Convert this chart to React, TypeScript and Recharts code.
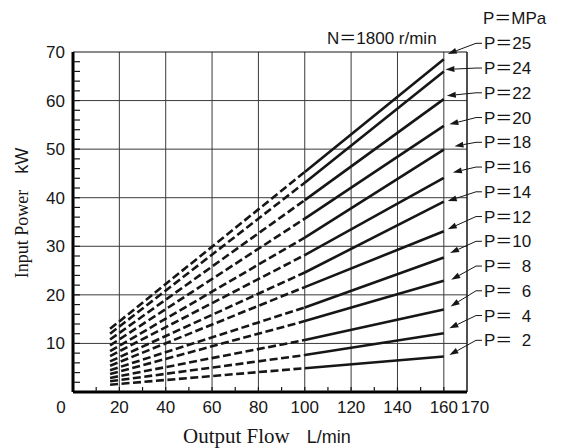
import React from "react";
import { LineChart, Line, XAxis, YAxis, CartesianGrid, ReferenceLine } from "recharts";

// flow points (L/min) where the curves were read
const flows = [16, 100, 160];
// discharge pressure of each curve (MPa)
const pressures = [25, 24, 22, 20, 18, 16, 14, 12, 10, 8, 6, 4, 2];
// input power (kW) read at each flow point, same order as pressures
const powerAt16 = [13.0, 12.0, 10.8, 9.6, 8.4, 7.4, 6.3, 5.4, 4.5, 3.7, 2.9, 2.2, 1.5];
const powerAt100 = [45.3, 43.1, 39.5, 35.7, 31.8, 28.2, 24.6, 21.6, 17.4, 14.6, 10.7, 7.6, 4.9];
const powerAt160 = [68.5, 66.0, 60.3, 54.8, 49.9, 44.1, 39.2, 33.1, 27.7, 22.9, 17.0, 12.1, 7.3];

const xTicks = [0, 10, 20, 30, 40, 50, 60, 70, 80, 90, 100, 110, 120, 130, 140, 150, 160, 170];
const yTicks = Array.from({ length: 36 }, (_, i) => i * 2);
const gridX = [20, 40, 60, 80, 100, 120, 140, 160];
const gridY = [10, 20, 30, 40, 50, 60];

// where the label arrows point (flow, power)
const arrowFlow = [161.7, 160.7, 161.3, 162.4, 164.6, 163.9, 161.7, 161.7, 162.7, 163.2, 162.9, 162.4, 162.4];
const arrowPower = [69.6, 66.4, 61.0, 55.1, 50.6, 45.2, 39.3, 33.5, 28.6, 23.1, 17.6, 13.1, 7.6];

const W = 563;
const H = 448;
const PLOT_L = 73;
const PLOT_R = 467;
const PLOT_T = 52;
const PLOT_B = 392;
const SANS = "'Liberation Sans', Arial, 'Noto Sans CJK JP', sans-serif";
const SERIF = "'Liberation Serif', 'Times New Roman', serif";
const INK = "#161616";

const px = (f: number) => PLOT_L + (f / 170) * (PLOT_R - PLOT_L);
const py = (p: number) => PLOT_B - (p / 70) * (PLOT_B - PLOT_T);

const rows = flows.map((flow, i) => {
  const src = [powerAt16, powerAt100, powerAt160][i];
  const row: any = { flow };
  pressures.forEach((p, j) => {
    if (i <= 1) row[`d${p}`] = src[j];
    if (i >= 1) row[`s${p}`] = src[j];
  });
  return row;
});

const XTick = (props: any) => {
  const { x, y, payload } = props;
  const v = payload.value;
  const label = v % 20 === 0 || v === 170;
  let lx = x;
  if (v === 0) lx = x - 12;
  if (v === 170) lx = x + 8;
  return (
    <g>
      {v > 0 && v < 170 && <line x1={x} x2={x} y1={y} y2={y - 5} stroke={INK} strokeWidth={1.2} />}
      {label && (
        <text x={lx} y={y + 21} textAnchor="middle" fontFamily={SANS} fontSize={17} fill={INK}>
          {v}
        </text>
      )}
    </g>
  );
};

const YTick = (props: any) => {
  const { x, y, payload } = props;
  const v = payload.value;
  return (
    <g>
      {v > 0 && v < 70 && <line x1={x} x2={x + 7} y1={y} y2={y} stroke={INK} strokeWidth={1.2} />}
      {v > 0 && v % 10 === 0 && (
        <text x={x - 8} y={y + 6} textAnchor="end" fontFamily={SANS} fontSize={17} fill={INK}>
          {v}
        </text>
      )}
    </g>
  );
};

function Annotations() {
  const lx = 483;
  return (
    <svg width={W} height={H} style={{ position: "absolute", left: 0, top: 0, pointerEvents: "none" }}>
      <text x={lx} y={24} fontFamily={SANS} fontSize={17} fill={INK}>P＝MPa</text>
      <text x={327} y={44} fontFamily={SANS} fontSize={17} fill={INK}>N＝1800 r/min</text>
      {pressures.map((p, i) => {
        const cy = 43.3 + i * 24.75;
        const tx = px(arrowFlow[i]);
        const ty = py(arrowPower[i]);
        const sx = lx - 7;
        const ang = Math.atan2(ty - cy, tx - sx);
        const len = 9;
        const hw = 3;
        const bx = tx - Math.cos(ang) * len;
        const by = ty - Math.sin(ang) * len;
        const nx = -Math.sin(ang) * hw;
        const ny = Math.cos(ang) * hw;
        const label = p >= 10 ? `P＝${p}` : `P＝\u2007${p}`;
        return (
          <g key={p}>
            <polyline points={`${lx - 1},${cy} ${sx},${cy} ${bx},${by}`} fill="none" stroke={INK} strokeWidth={1} />
            <polygon points={`${tx},${ty} ${bx + nx},${by + ny} ${bx - nx},${by - ny}`} fill={INK} />
            <text x={lx + 1} y={cy + 6} fontFamily={SANS} fontSize={17} fill={INK}>{label}</text>
          </g>
        );
      })}
      <text transform="translate(28,213) rotate(-90)" textAnchor="middle" fill={INK}>
        <tspan fontFamily={SERIF} fontSize={18}>Input Power</tspan>
        <tspan fontFamily={SANS} fontSize={18} dx={16}>kW</tspan>
      </text>
      <text x={183} y={443} fill={INK}>
        <tspan fontFamily={SERIF} fontSize={21}>Output Flow</tspan>
        <tspan fontFamily={SANS} fontSize={18} dx={17}>L/min</tspan>
      </text>
    </svg>
  );
}

export default function App() {
  return (
    <div style={{ position: "absolute", left: 0, top: 0, width: W, height: H, background: "#fff" }}>
      <LineChart width={W} height={H} data={rows} margin={{ top: PLOT_T, right: W - PLOT_R, bottom: 16, left: 33 }}>
        <CartesianGrid stroke="#3a3a3a" strokeWidth={1} horizontalValues={gridY} verticalValues={gridX} />
        <ReferenceLine y={70} stroke={INK} strokeWidth={1.2} />
        <ReferenceLine x={170} stroke={INK} strokeWidth={1.5} />
        <XAxis
          type="number"
          dataKey="flow"
          domain={[0, 170]}
          ticks={xTicks}
          interval={0}
          height={40}
          tickSize={0}
          tickMargin={0}
          tickLine={false}
          tick={<XTick />}
          axisLine={{ stroke: "#000", strokeWidth: 3 }}
        />
        <YAxis
          type="number"
          domain={[0, 70]}
          ticks={yTicks}
          interval={0}
          width={40}
          tickSize={0}
          tickMargin={0}
          tickLine={false}
          tick={<YTick />}
          axisLine={{ stroke: "#000", strokeWidth: 3 }}
        />
        {pressures.map((p) => (
          <Line
            key={`d${p}`}
            dataKey={`d${p}`}
            stroke={INK}
            strokeWidth={2.6}
            strokeDasharray="8 3.5"
            dot={false}
            activeDot={false}
            isAnimationActive={false}
          />
        ))}
        {pressures.map((p) => (
          <Line
            key={`s${p}`}
            dataKey={`s${p}`}
            stroke={INK}
            strokeWidth={2.6}
            dot={false}
            activeDot={false}
            isAnimationActive={false}
          />
        ))}
      </LineChart>
      <Annotations />
    </div>
  );
}
